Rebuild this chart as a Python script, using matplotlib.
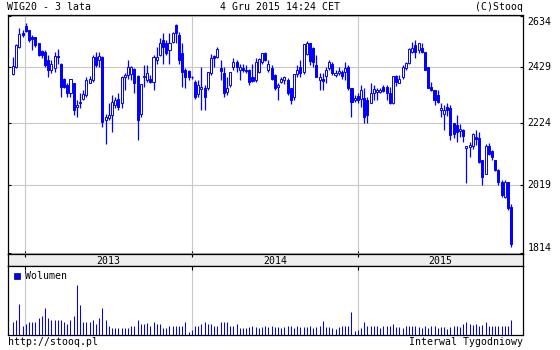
import matplotlib
matplotlib.use('Agg')
import matplotlib.pyplot as plt
import matplotlib.dates as mdates
from matplotlib.ticker import NullLocator
from matplotlib.patches import Rectangle
import numpy as np
import pandas as pd

plt.rcParams['font.family'] = ['DejaVu Sans Mono']
plt.rcParams['font.size'] = 7.1

# weekly candles, WIG20, Dec 2012 - Dec 2015
weeks = pd.date_range('2012-12-05', periods=157, freq='W-WED')

open_ = [2405, 2432, 2509, 2565, 2592, 2576, 2549, 2547, 2523, 2494,
         2490, 2457, 2419, 2425, 2473, 2444, 2387, 2362, 2335, 2369,
         2281, 2295, 2313, 2326, 2371, 2381, 2468, 2457, 2468, 2236,
         2242, 2253, 2289, 2313, 2295, 2391, 2400, 2404, 2422, 2396,
         2259, 2394, 2381, 2387, 2375, 2457, 2477, 2536, 2525, 2496,
         2529, 2597, 2556, 2483, 2419, 2416, 2394, 2375, 2330, 2348,
         2350, 2350, 2406, 2473, 2470, 2425, 2409, 2338, 2362, 2432,
         2451, 2419, 2425, 2421, 2421, 2394, 2381, 2413, 2451, 2483,
         2419, 2425, 2400, 2356, 2375, 2381, 2381, 2350, 2319, 2403,
         2432, 2413, 2481, 2523, 2503, 2438, 2381, 2387, 2396, 2425,
         2444, 2400, 2406, 2413, 2413, 2432, 2350, 2307, 2322, 2313,
         2316, 2307, 2297, 2334, 2338, 2337, 2354, 2354, 2335, 2295,
         2396, 2371, 2394, 2425, 2446, 2490, 2516, 2496, 2503, 2490,
         2432, 2354, 2346, 2326, 2270, 2258, 2282, 2280, 2224, 2218,
         2198, 2201, 2141, 2143, 2146, 2176, 2173, 2100, 2053, 2148,
         2130, 2099, 2068, 2029, 1982, 2029, 1951]
high = [2470, 2520, 2583, 2578, 2603, 2578, 2556, 2549, 2525, 2496,
        2496, 2477, 2457, 2490, 2499, 2446, 2390, 2369, 2387, 2372,
        2307, 2332, 2344, 2394, 2396, 2477, 2490, 2490, 2473, 2259,
        2295, 2326, 2319, 2332, 2396, 2406, 2457, 2434, 2425, 2400,
        2366, 2438, 2438, 2400, 2477, 2509, 2546, 2565, 2536, 2563,
        2569, 2600, 2569, 2523, 2425, 2419, 2396, 2381, 2381, 2432,
        2362, 2413, 2481, 2477, 2509, 2457, 2432, 2394, 2413, 2464,
        2457, 2444, 2444, 2438, 2422, 2444, 2464, 2464, 2483, 2490,
        2457, 2438, 2403, 2372, 2394, 2396, 2390, 2350, 2403, 2438,
        2457, 2520, 2533, 2525, 2509, 2477, 2406, 2406, 2432, 2457,
        2451, 2419, 2432, 2419, 2451, 2438, 2353, 2326, 2332, 2362,
        2353, 2319, 2369, 2362, 2350, 2353, 2362, 2362, 2356, 2396,
        2400, 2400, 2438, 2451, 2503, 2529, 2536, 2525, 2523, 2490,
        2432, 2375, 2346, 2344, 2295, 2290, 2295, 2290, 2226, 2253,
        2222, 2203, 2148, 2160, 2191, 2201, 2195, 2101, 2152, 2157,
        2132, 2100, 2071, 2034, 2034, 2029, 1959]
low = [2400, 2428, 2505, 2550, 2570, 2530, 2496, 2509, 2475, 2464,
       2432, 2394, 2406, 2413, 2444, 2319, 2353, 2317, 2319, 2253,
       2248, 2277, 2307, 2319, 2369, 2375, 2430, 2432, 2212, 2152,
       2236, 2195, 2277, 2271, 2277, 2344, 2387, 2381, 2332, 2166,
       2248, 2354, 2375, 2369, 2346, 2444, 2473, 2444, 2477, 2444,
       2525, 2523, 2444, 2354, 2350, 2381, 2387, 2313, 2319, 2271,
       2271, 2344, 2400, 2432, 2464, 2381, 2319, 2326, 2356, 2419,
       2413, 2381, 2413, 2406, 2362, 2375, 2375, 2406, 2444, 2455,
       2413, 2381, 2344, 2307, 2369, 2366, 2326, 2292, 2307, 2391,
       2394, 2403, 2477, 2438, 2432, 2391, 2344, 2344, 2369, 2419,
       2400, 2394, 2400, 2384, 2381, 2346, 2248, 2301, 2295, 2283,
       2224, 2224, 2295, 2307, 2307, 2332, 2338, 2307, 2292, 2292,
       2359, 2369, 2387, 2419, 2444, 2483, 2464, 2483, 2483, 2419,
       2350, 2341, 2289, 2295, 2245, 2200, 2250, 2166, 2172, 2160,
       2178, 2160, 2024, 2110, 2138, 2149, 2091, 2018, 2053, 2115,
       2099, 2064, 2018, 1982, 1977, 1941, 1832]
close = [2433, 2516, 2560, 2555, 2574, 2536, 2540, 2516, 2477, 2477,
         2438, 2419, 2444, 2473, 2468, 2356, 2356, 2335, 2384, 2271,
         2289, 2301, 2328, 2381, 2387, 2468, 2438, 2473, 2230, 2248,
         2253, 2301, 2307, 2283, 2391, 2400, 2432, 2432, 2369, 2236,
         2365, 2396, 2409, 2375, 2470, 2470, 2523, 2507, 2486, 2523,
         2563, 2563, 2457, 2413, 2394, 2391, 2392, 2317, 2362, 2356,
         2319, 2413, 2464, 2464, 2499, 2416, 2332, 2353, 2413, 2451,
         2432, 2432, 2419, 2416, 2375, 2378, 2451, 2460, 2483, 2457,
         2444, 2384, 2350, 2362, 2387, 2394, 2332, 2307, 2403, 2419,
         2406, 2520, 2525, 2455, 2451, 2394, 2394, 2378, 2419, 2451,
         2406, 2406, 2416, 2396, 2425, 2350, 2301, 2316, 2307, 2344,
         2248, 2253, 2332, 2347, 2344, 2344, 2341, 2335, 2295, 2396,
         2375, 2387, 2432, 2446, 2499, 2503, 2490, 2523, 2490, 2421,
         2350, 2344, 2309, 2301, 2280, 2270, 2272, 2185, 2189, 2195,
         2203, 2180, 2146, 2149, 2189, 2169, 2094, 2043, 2146, 2121,
         2110, 2066, 2029, 1987, 2029, 1946, 1840]
volume = [123, 147, 300, 80, 100, 120, 120, 120, 160, 180,
          260, 160, 147, 147, 140, 140, 120, 100, 140, 180,
          490, 293, 120, 120, 120, 140, 107, 167, 260, 140,
          80, 60, 60, 60, 67, 67, 60, 80, 80, 140,
          100, 100, 113, 80, 120, 100, 100, 67, 67, 80,
          80, 87, 87, 80, 120, 20, 40, 80, 80, 100,
          120, 107, 107, 80, 87, 120, 120, 120, 80, 80,
          100, 60, 60, 60, 73, 80, 73, 67, 73, 80,
          73, 80, 73, 73, 60, 73, 87, 80, 60, 87,
          73, 73, 73, 80, 60, 73, 80, 130, 73, 73,
          60, 53, 73, 80, 80, 80, 220, 33, 47, 60,
          120, 80, 87, 87, 80, 67, 87, 87, 80, 107,
          73, 73, 60, 87, 87, 87, 87, 73, 60, 87,
          60, 87, 87, 67, 73, 73, 53, 73, 80, 80,
          73, 107, 127, 100, 93, 100, 80, 93, 120, 87,
          87, 87, 87, 80, 87, 87, 147]

price_ticks = [1814, 2019, 2224, 2429, 2634]
years = ['2013', '2014', '2015']

blue = '#0000ff'
grid_c = '#c8c8c8'

x = mdates.date2num(weeks)
o = np.array(open_)
c = np.array(close)
up = c >= o

xmin = mdates.date2num(pd.Timestamp('2012-11-24'))
xmax = mdates.date2num(pd.Timestamp('2015-12-28'))
year_x = mdates.date2num([pd.Timestamp(y + '-01-01') for y in years])

fig = plt.figure(figsize=(5.6, 3.5), dpi=100)
L, W = 8 / 560, 515 / 560
ax = fig.add_axes([L, 1 - 254.3 / 350, W, (254.3 - 15) / 350])
band = fig.add_axes([L, 1 - 266 / 350, W, (266 - 254.3) / 350])
axv = fig.add_axes([L, 1 - 334.5 / 350, W, (334.5 - 266) / 350])

# price panel
ax.set_yscale('log')
ax.set_xlim(xmin, xmax)
ax.set_ylim(1810, 2638)
ax.set_xticks(year_x)
ax.set_yticks(price_ticks)
ax.yaxis.set_minor_locator(NullLocator())
ax.tick_params(labelbottom=False, labelleft=False, direction='in', length=2.5,
               width=0.8, left=True, right=True, bottom=True)
ax.grid(True, color=grid_c, lw=0.8)
ax.set_axisbelow(True)

ax.vlines(x, low, high, color=blue, lw=0.9, zorder=2)
ax.bar(x, np.abs(c - o), bottom=np.minimum(o, c), width=4.5,
       color=np.where(up, 'white', blue), edgecolor=blue, lw=0.7, zorder=3)

ytr = ax.get_yaxis_transform()
for v in price_ticks[1:-1]:
    ax.text(1.0091, v, str(v), transform=ytr, ha='left', va='center')
ax.text(1.0091, (254.3 - 22.3) / 239.3, '2634', transform=ax.transAxes, ha='left', va='center')
ax.text(1.0091, (254.3 - 248.3) / 239.3, '1814', transform=ax.transAxes, ha='left', va='center')

# year band
band.set_xlim(xmin, xmax)
band.set_ylim(0, 1)
band.set_facecolor('#eeeeee')
band.set_yticks([])
band.set_xticks(year_x)
band.tick_params(axis='x', bottom=False, top=True, direction='in', length=2,
                 labelbottom=False)
edges = list(year_x) + [xmax]
for i, y in enumerate(years):
    band.text((edges[i] + edges[i + 1]) / 2, 0.45, y, ha='center', va='center')

# volume panel
axv.set_xlim(xmin, xmax)
axv.set_ylim(0, 680)
axv.set_yticks([])
axv.set_xticks(year_x)
axv.tick_params(axis='x', bottom=False, top=True, direction='in', length=3,
                labelbottom=False)
axv.grid(axis='x', color=grid_c, lw=0.8)
axv.set_axisbelow(True)
axv.vlines(x, 0, volume, color=blue, lw=0.75)

for a in (ax, band, axv):
    for sp in a.spines.values():
        sp.set_linewidth(0.9)

fig.patches.append(Rectangle((14 / 560, 1 - 279 / 350), 6 / 560, 6 / 350,
                             transform=fig.transFigure, facecolor=blue,
                             edgecolor='#000066', lw=0.5))
fig.text(25 / 560, 1 - 276 / 350, 'Wolumen', ha='left', va='center')

ty = 1 - 6.5 / 350
fig.text(7 / 560, ty, 'WIG20 - 3 lata', ha='left', va='center')
fig.text(280 / 560, ty, '4 Gru 2015 14:24 CET', ha='center', va='center')
fig.text(523 / 560, ty, '(C)Stooq', ha='right', va='center')
by = 1 - 342 / 350
fig.text(8 / 560, by, 'http://stooq.pl', ha='left', va='center')
fig.text(523 / 560, by, 'Interwal Tygodniowy', ha='right', va='center')

fig.savefig('out.png', dpi=100)
